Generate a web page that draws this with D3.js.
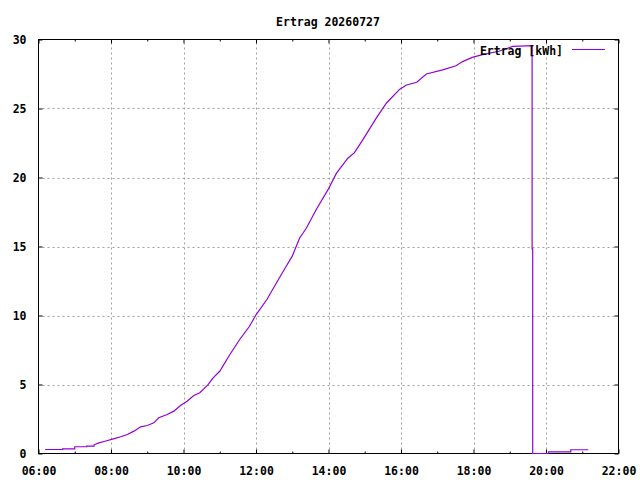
<!DOCTYPE html>
<html>
<head>
<meta charset="utf-8">
<script src="https://d3js.org/d3.v7.min.js"></script>
<style>
  body { margin: 0; background: #fff; }
  text { font-family: "DejaVu Sans Mono", monospace; font-weight: bold; font-size: 11.5px; fill: #000; }
</style>
</head>
<body>
<script>
// chart data
const title = "Ertrag 20260727";
const seriesName = "Ertrag [kWh]";
const times = [
  "06:11","06:40","06:40","07:00","07:00","07:20","07:20","07:32","07:32","07:40",
  "07:50","08:04","08:16","08:27","08:38","08:49","09:00","09:11","09:19","09:33",
  "09:44","09:55","10:06","10:17","10:27","10:40","10:49","11:00","11:16","11:33",
  "11:49","12:00","12:18","12:34","12:50","13:00","13:12","13:23","13:40","13:59",
  "14:13","14:32","14:43","14:57","15:19","15:36","15:58","16:09","16:26","16:42",
  "17:09","17:31","17:42","17:58","18:15","18:42","19:05","19:37","19:37","19:38",
  "19:38","20:04","20:04","20:41","20:41","21:10"
];
const values = [
  0.29,0.29,0.34,0.34,0.49,0.49,0.53,0.53,0.63,0.77,
  0.89,1.06,1.21,1.38,1.62,1.93,2.03,2.22,2.59,2.83,
  3.07,3.48,3.79,4.20,4.40,4.95,5.48,5.96,7.12,8.26,
  9.20,10.05,11.16,12.37,13.57,14.30,15.60,16.30,17.70,19.10,
  20.30,21.40,21.80,22.75,24.30,25.40,26.40,26.70,26.90,27.50,
  27.80,28.10,28.40,28.70,28.90,29.15,29.50,29.55,14.83,14.83,
  0,0,0.12,0.12,0.27,0.27
];
const xDomain = ["06:00", "22:00"];
const yTicks = [0, 5, 10, 15, 20, 25, 30];

const W = 640, H = 480;
const L = 38.5, R = 618.5, T = 39.5, B = 453.5;

const parse = d3.timeParse("%H:%M");
const fmt = d3.timeFormat("%H:%M");
const data = times.map((t, i) => ({ t: parse(t), v: values[i] }));

const svg = d3.select("body").append("svg")
  .attr("width", W).attr("height", H)
  .style("display", "block");

const x = d3.scaleTime().domain(xDomain.map(parse)).range([L, R]);
const y = d3.scaleLinear().domain([0, 30]).range([B, T]);

const majorX = d3.timeHour.every(2).range(parse("06:00"), d3.timeMinute.offset(parse("22:00"), 1));
const minorX = d3.timeHour.every(1).range(parse("06:00"), parse("22:00")).filter(d => d.getHours() % 2 === 1);

// grid
const grid = svg.append("g").attr("stroke", "#a0a0a0").attr("stroke-width", 1).attr("stroke-dasharray", "2,3");
grid.selectAll(".gx").data(majorX.slice(1, -1)).join("line")
  .attr("x1", d => Math.round(x(d)) + 0.5).attr("x2", d => Math.round(x(d)) + 0.5)
  .attr("y1", B - 4).attr("y2", T + 4);
grid.selectAll(".gy").data(yTicks.slice(1, -1)).join("line")
  .attr("x1", L + 4).attr("x2", R - 4)
  .attr("y1", d => Math.round(y(d)) + 0.5).attr("y2", d => Math.round(y(d)) + 0.5);

// axes with inward ticks (gnuplot style)
const xb = d3.axisBottom(x).tickValues(majorX).tickFormat(fmt).tickSizeInner(-4).tickSizeOuter(0).tickPadding(13);
const xt = d3.axisTop(x).tickValues(majorX).tickFormat("").tickSizeInner(-4).tickSizeOuter(0);
const xbm = d3.axisBottom(x).tickValues(minorX).tickFormat("").tickSizeInner(-2).tickSizeOuter(0);
const xtm = d3.axisTop(x).tickValues(minorX).tickFormat("").tickSizeInner(-2).tickSizeOuter(0);
const yl = d3.axisLeft(y).tickValues(yTicks).tickSizeInner(-4).tickSizeOuter(0).tickPadding(12);
const yr = d3.axisRight(y).tickValues(yTicks).tickFormat("").tickSizeInner(-4).tickSizeOuter(0);

function styleAxis(g) {
  g.select(".domain").remove();
  g.selectAll(".tick line").attr("stroke", "#000");
  g.selectAll("text").attr("fill", "#000");
  g.attr("font-family", null).attr("font-size", null);
}
svg.append("g").attr("transform", `translate(0,${B})`).call(xb).call(styleAxis);
svg.append("g").attr("transform", `translate(0,${B})`).call(xbm).call(styleAxis);
svg.append("g").attr("transform", `translate(0,${T})`).call(xt).call(styleAxis);
svg.append("g").attr("transform", `translate(0,${T})`).call(xtm).call(styleAxis);
svg.append("g").attr("transform", `translate(${L},0)`).call(yl).call(styleAxis);
svg.append("g").attr("transform", `translate(${R},0)`).call(yr).call(styleAxis);

// frame
svg.append("rect").attr("x", L).attr("y", T).attr("width", R - L).attr("height", B - T)
  .attr("fill", "none").attr("stroke", "#000").attr("stroke-width", 1);

// title
svg.append("text").attr("x", 328).attr("y", 26).attr("text-anchor", "middle").text(title);

// series
const line = d3.line().x(d => x(d.t)).y(d => y(d.v));
svg.append("path").datum(data)
  .attr("d", line)
  .attr("fill", "none").attr("stroke", "#9400d3").attr("stroke-width", 1.2);

// legend
svg.append("text").attr("x", 563).attr("y", 55).attr("text-anchor", "end").text(seriesName);
svg.append("line").attr("x1", 572).attr("x2", 605).attr("y1", 49.5).attr("y2", 49.5)
  .attr("stroke", "#9400d3").attr("stroke-width", 1.2);
</script>
</body>
</html>
